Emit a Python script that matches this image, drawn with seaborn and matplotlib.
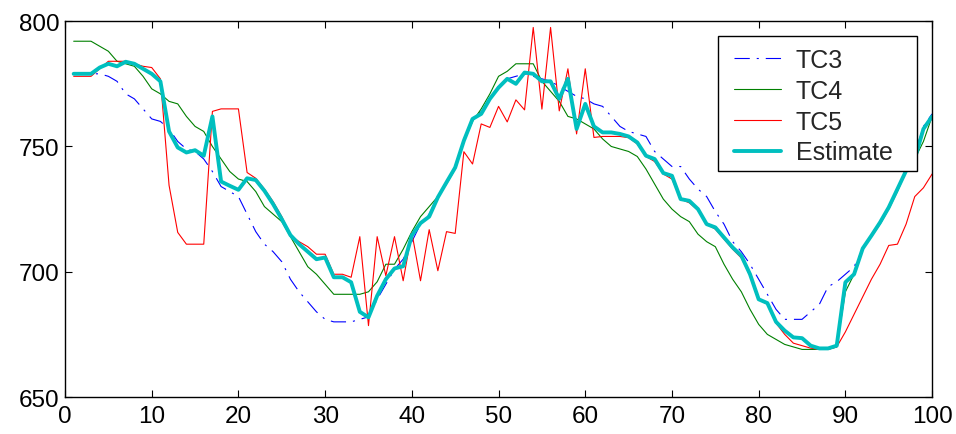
import numpy as np
import pandas as pd
import matplotlib
matplotlib.use("Agg")
import matplotlib.pyplot as plt
from matplotlib.patches import Rectangle
import seaborn as sns

x = list(range(1, 101))

tc3 = [779, 779, 779, 779, 778, 776, 771, 769, 765, 761,
       760, 757, 752, 749, 748, 745, 740, 734, 732, 730,
       723, 716, 711, 708, 704, 697, 692, 688, 684, 681,
       680, 680, 680, 681, 682, 689, 695, 701, 705, 712,
       719, 723, 730, 736, 742, 753, 761, 764, 769, 774,
       777, 778, 779, 778, 777, 776, 774, 772, 770, 769,
       767, 766, 762, 758, 756, 755, 754, 748, 745, 742,
       742, 737, 733, 730, 724, 719, 712, 708, 703, 697,
       691, 685, 681, 681, 681, 684, 687, 694, 696, 699,
       702, 709, 715, 720, 726, 733, 741, 747, 758, 763]

tc4 = [792, 792, 792, 790, 788, 784, 783, 782, 778, 773,
       771, 768, 767, 762, 758, 756, 750, 745, 740, 737,
       736, 732, 726, 723, 720, 714, 708, 702, 699, 695,
       691, 691, 691, 691, 692, 696, 703, 703, 709, 716,
       722, 726, 730, 735, 741, 752, 760, 765, 771, 778,
       780, 783, 783, 783, 776, 772, 768, 762, 761, 759,
       757, 753, 750, 749, 748, 746, 741, 735, 729, 725,
       722, 720, 715, 712, 710, 703, 697, 692, 685, 679,
       675, 673, 671, 670, 669, 669, 669, 669, 670, 692,
       699, 709, 714, 719, 725, 732, 740, 745, 752, 762]

tc5 = [778, 778, 778, 781, 784, 784, 784, 783, 782, 781.5,
       777, 734.5, 715.7, 711, 711, 711, 764, 765, 765, 765,
       739.6, 737.3, 733, 728, 722, 714.5, 712, 710, 707, 707,
       699, 699, 697.8, 714, 678.5, 714, 698.4, 714, 696.4, 715.7,
       696.4, 716.8, 700.4, 716, 715.3, 747.9, 743, 759, 757.6, 766,
       759.8, 768.6, 764.6, 797.5, 764.9, 797.5, 764.2, 781, 755, 781,
       753.6, 754, 754, 754, 753.5, 751, 746, 744, 739, 737,
       729, 727.5, 724.5, 719, 717, 713, 709, 705.5, 698.5, 689,
       687, 679.5, 675, 671.5, 670.5, 669.5, 669, 669, 670, 676,
       683, 690, 697, 703, 710.5, 711, 719, 730, 733.5, 739]

estimate = [779, 779, 779, 781.5, 783, 782, 783.8, 783, 781, 779,
            776, 756, 749.6, 747.6, 748.5, 746.3, 762, 736, 734.3, 732.7,
            737.3, 736.6, 732.3, 727, 721, 714.6, 711, 708, 705, 705.7,
            697.8, 697.8, 695.8, 684, 681.8, 690.4, 697, 701.3, 702.2, 714.5,
            719.4, 722, 729.7, 735.7, 741.6, 752.3, 761, 763, 769, 773.5,
            777, 775, 779.5, 779, 776, 776, 769, 777, 757, 767,
            758, 755.6, 755.6, 755, 754, 751.6, 746.3, 745, 739.4, 738.3,
            729, 728.3, 725, 719, 717.7, 713.7, 709.7, 706.4, 699, 689,
            687.5, 680, 676.5, 673.8, 673.5, 670.5, 669.4, 669.4, 670.5, 695.8,
            699, 709.3, 714.4, 719.7, 725.7, 733, 740.3, 745, 757, 762]

series_names = ["TC3", "TC4", "TC5", "Estimate"]
x_ticks = [0, 10, 20, 30, 40, 50, 60, 70, 80, 90, 100]
y_ticks = [650, 700, 750, 800]

sns.set_theme(style="white")
plt.rcParams["font.family"] = ["Liberation Sans", "DejaVu Sans"]
plt.rcParams["lines.scale_dashes"] = False

fig = plt.figure(figsize=(9.56, 4.35), dpi=100)
ax = fig.add_axes([0.068, 0.085, 0.907, 0.864])

df = pd.DataFrame({"x": x, "TC3": tc3, "TC4": tc4, "TC5": tc5, "Estimate": estimate})

dash_pat = [11, 5, 1.5, 5]
sns.lineplot(data=df, x="x", y="TC3", ax=ax, color=(0, 0, 1), lw=0.8, label="TC3")
ax.lines[-1].set_dashes(dash_pat)
sns.lineplot(data=df, x="x", y="TC4", ax=ax, color=(0, 0.5, 0), lw=0.8, label="TC4")
sns.lineplot(data=df, x="x", y="TC5", ax=ax, color=(1, 0, 0), lw=0.8, label="TC5")
sns.lineplot(data=df, x="x", y="Estimate", ax=ax, color=(0, 0.75, 0.75), lw=2.8,
             label="Estimate")

ax.set_xlim(0, 100)
ax.set_ylim(650, 800)
ax.set_xticks(x_ticks)
ax.set_yticks(y_ticks)
ax.set_xlabel("")
ax.set_ylabel("")
ax.tick_params(axis="both", which="both", direction="in", length=5, width=0.8,
               labelsize=17.5, colors="black", top=True, right=True,
               bottom=True, left=True)
ax.tick_params(axis="x", pad=6)
ax.tick_params(axis="y", pad=4)
for s in ax.spines.values():
    s.set_color("black")
    s.set_linewidth(1.0)
    s.set_visible(True)

# legend box (MATLAB-style, wider horizontal padding)
ax.add_patch(Rectangle((0.753, 0.601), 0.230, 0.359, transform=ax.transAxes,
                       facecolor="white", edgecolor="black", lw=1.0, zorder=4.5))
leg = ax.legend(loc="upper left", bbox_to_anchor=(0.772, 0.928), fontsize=18,
                frameon=False, borderpad=0, labelspacing=0.27, handlelength=1.85,
                handletextpad=0.6, borderaxespad=0)
leg.set_zorder(5)
leg.get_lines()[0].set_dashes(dash_pat)

fig.savefig("out.png", dpi=100)
